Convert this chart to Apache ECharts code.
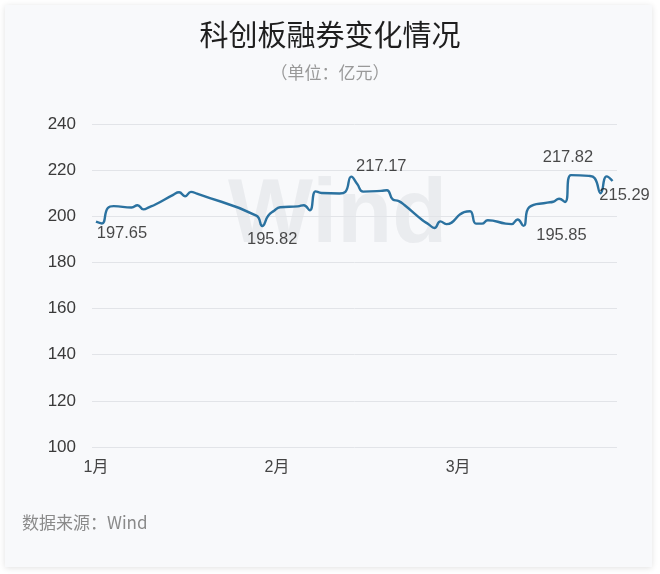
<!DOCTYPE html>
<html>
<head>
<meta charset="utf-8">
<script src="https://cdn.jsdelivr.net/npm/echarts@6/dist/echarts.min.js"></script>
<style>
html,body{margin:0;padding:0;background:#ffffff;}
#chart{width:660px;height:574px;}
</style>
</head>
<body>
<div id="chart"></div>
<script>
// ---- data ----
const dates = ['2023-01-03','2023-01-04','2023-01-05','2023-01-06','2023-01-09','2023-01-10','2023-01-11','2023-01-12','2023-01-13','2023-01-16','2023-01-17','2023-01-18','2023-01-19','2023-01-20','2023-01-30','2023-01-31',
'2023-02-01','2023-02-02','2023-02-03','2023-02-06','2023-02-07','2023-02-08','2023-02-09','2023-02-10','2023-02-13','2023-02-14','2023-02-15','2023-02-16','2023-02-17','2023-02-20','2023-02-21','2023-02-22','2023-02-23','2023-02-24','2023-02-27','2023-02-28',
'2023-03-01','2023-03-02','2023-03-03','2023-03-06','2023-03-07','2023-03-08','2023-03-09','2023-03-10','2023-03-13','2023-03-14','2023-03-15','2023-03-16','2023-03-17','2023-03-20','2023-03-21','2023-03-22','2023-03-23','2023-03-24','2023-03-27','2023-03-28','2023-03-29','2023-03-30','2023-03-31'];
const shortValues = [197.65,196.9,203.6,204.4,203.8,204.8,203.0,204.0,205.1,209.3,210.4,208.7,210.6,209.8,200.3,195.82,
200.2,202.4,203.9,204.3,204.8,202.6,210.8,210.1,209.9,210.6,217.17,214.0,210.7,211.0,211.3,207.3,206.6,204.8,198.3,196.6,
194.9,197.8,196.6,201.8,202.2,196.8,196.8,198.3,196.8,196.6,198.6,195.85,204.0,205.9,206.3,207.6,206.2,217.82,217.5,216.5,210.0,217.3,215.29];
const annotatedDates = ['2023-01-03','2023-01-31','2023-02-15','2023-03-16','2023-03-24','2023-03-31'];
const monthLabels = ['1月','2月','3月'];
const yTicks = [100,120,140,160,180,200,220,240];

// ---- layout / style (not data) ----
const annotationOffsets = [[26,12],[10,14],[30,-10],[38,10],[-3,-18],[12,14]];
const monthLabelPos = [0, 30.5, 61];

const DAY = 86400000;
const t0 = Date.parse(dates[0]);
const dayIndex = d => (Date.parse(d) - t0) / DAY;
const lineData = dates.map((d, i) => [dayIndex(d), shortValues[i]]);
const annData = annotatedDates.map((d, k) => {
  const i = dates.indexOf(d);
  return {
    value: [dayIndex(d), shortValues[i]],
    label: { offset: annotationOffsets[k] }
  };
});

const chart = echarts.init(document.getElementById('chart'));
chart.setOption({
  backgroundColor: '#ffffff',
  animation: false,
  graphic: [
    { type: 'rect', z: -10, shape: { x: 5, y: 5, width: 647, height: 562 },
      style: { fill: '#f8f9fb', shadowBlur: 6, shadowColor: 'rgba(0,0,0,0.12)', shadowOffsetY: 1 } },
    { type: 'text', z: -5, left: 228, top: 172,
      style: { text: 'Wind', fill: '#eaecef', font: 'bold 90px "Liberation Sans", Arial, sans-serif' } },
    { type: 'text', left: 22, top: 514,
      style: { text: '数据来源：Wind', fill: '#8a8a8a', font: '17px "Noto Sans CJK SC", sans-serif' } }
  ],
  title: {
    text: '科创板融券变化情况',
    subtext: '（单位：亿元）',
    left: 'center',
    top: 15,
    itemGap: 15,
    textStyle: { fontSize: 29, fontWeight: 'normal', color: '#1e1e1e', fontFamily: '"Noto Sans CJK SC", sans-serif' },
    subtextStyle: { fontSize: 17, color: '#999999', fontFamily: '"Noto Sans CJK SC", sans-serif' }
  },
  grid: { left: 92, right: 43, top: 124, bottom: 127, containLabel: false },
  xAxis: {
    type: 'value',
    min: -0.67,
    max: 87.75,
    axisLine: { show: false },
    axisTick: { show: false },
    splitLine: { show: false },
    axisLabel: {
      customValues: monthLabelPos,
      formatter: (v) => monthLabels[monthLabelPos.indexOf(v)] || '',
      color: '#444', fontSize: 16, margin: 13,
      fontFamily: '"Liberation Sans", "Noto Sans CJK SC", sans-serif'
    }
  },
  yAxis: {
    type: 'value',
    min: yTicks[0],
    max: yTicks[yTicks.length - 1],
    interval: 20,
    axisLine: { show: false },
    axisTick: { show: false },
    splitLine: { lineStyle: { color: '#e2e4e8', width: 1 } },
    axisLabel: { color: '#3a3a3a', fontSize: 17, margin: 16, fontFamily: '"Liberation Sans", Arial, sans-serif' }
  },
  series: [
    {
      type: 'line',
      data: lineData,
      smooth: 0.5,
      showSymbol: false,
      lineStyle: { color: '#2b72a0', width: 2.4 },
      itemStyle: { color: '#2b72a0' },
      z: 3
    },
    {
      type: 'scatter',
      data: annData,
      symbolSize: 1,
      itemStyle: { color: 'rgba(0,0,0,0)' },
      label: {
        show: true,
        position: 'inside',
        formatter: p => p.value[1].toFixed(2),
        color: '#1a1a1a',
        fontSize: 16.5,
        fontFamily: '"Liberation Sans", Arial, sans-serif'
      },
      z: 4
    }
  ]
});
</script>
</body>
</html>
